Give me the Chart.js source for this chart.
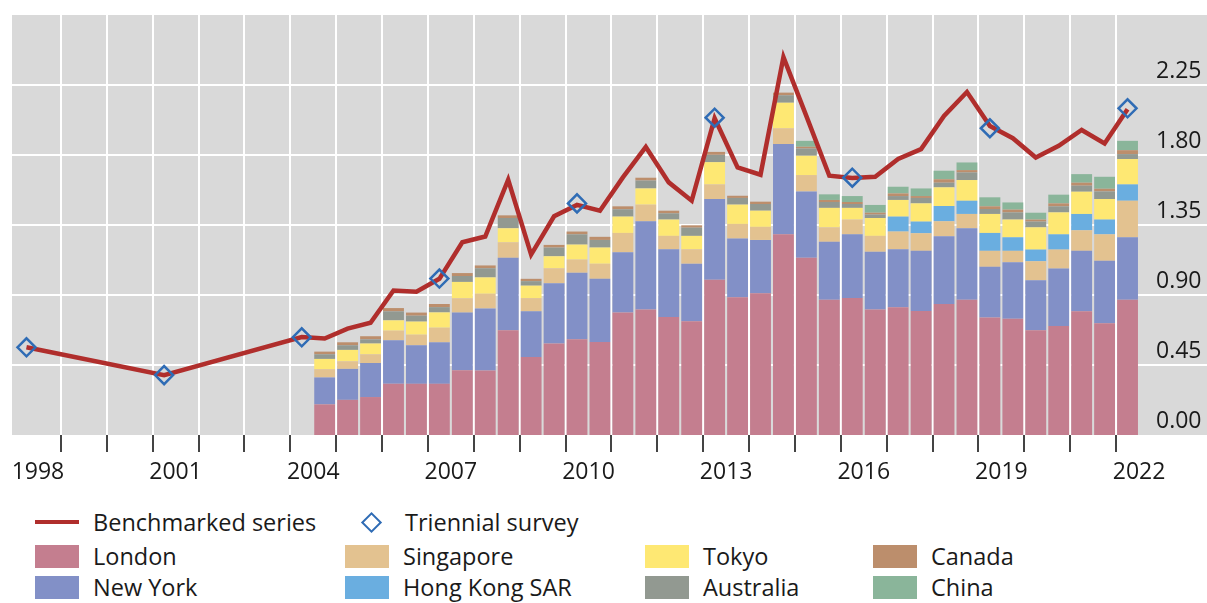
<!DOCTYPE html>
<html lang="en">
<head>
  <meta charset="UTF-8" />
  <title>FX turnover by trading centre</title>
  <script src="https://cdn.jsdelivr.net/npm/chart.js"></script>
  <style>
    body {
      margin: 0;
      background: #fff;
      font-family: "Open Sans", sans-serif;
    }

    .wrap {
      position: relative;
      width: 1207px;
      height: 603px;
      overflow: hidden;
    }

    #turnover-chart {
      position: absolute;
      left: 0;
      top: 0;
    }

    .legend-item {
      position: absolute;
      height: 30px;
      display: flex;
      align-items: center;
      font-size: 23.5px;
      color: #1a1a1a;
      white-space: nowrap;
    }

    .legend-item .swatch {
      width: 44px;
      height: 23px;
      margin-right: 14px;
    }

    .legend-item .dash {
      width: 44px;
      height: 4px;
      margin-right: 14px;
    }

    .legend-item .diamond {
      width: 11px;
      height: 11px;
      border: 2.5px solid #2f6cb5;
      transform: rotate(45deg);
      margin: 0 26px 0 4px;
    }
  </style>
</head>
<body>
  <div class="wrap">
    <canvas id="turnover-chart" width="1207" height="495"></canvas>
    <div id="legend"></div>
  </div>

  <script>
    // half-year periods on the axis
    const periods = [
      '1998 H1', '1998 H2', '1999 H1', '1999 H2', '2000 H1', '2000 H2', '2001 H1', '2001 H2',
      '2002 H1', '2002 H2', '2003 H1', '2003 H2', '2004 H1', '2004 H2', '2005 H1', '2005 H2',
      '2006 H1', '2006 H2', '2007 H1', '2007 H2', '2008 H1', '2008 H2', '2009 H1', '2009 H2',
      '2010 H1', '2010 H2', '2011 H1', '2011 H2', '2012 H1', '2012 H2', '2013 H1', '2013 H2',
      '2014 H1', '2014 H2', '2015 H1', '2015 H2', '2016 H1', '2016 H2', '2017 H1', '2017 H2',
      '2018 H1', '2018 H2', '2019 H1', '2019 H2', '2020 H1', '2020 H2', '2021 H1', '2021 H2',
      '2022 H1'
    ];

    // trading centre bars, 2004 H2 to 2022 H1
    const barStart = '2004 H2';
    const london    = [0.197, 0.226, 0.244, 0.329, 0.329, 0.329, 0.417, 0.415, 0.673, 0.502, 0.588, 0.615, 0.598, 0.787, 0.806, 0.758, 0.731, 0.998, 0.885, 0.912, 1.290, 1.139, 0.870, 0.880, 0.806, 0.822, 0.797, 0.842, 0.870, 0.756, 0.748, 0.673, 0.701, 0.795, 0.718, 0.870];
    const newYork   = [0.173, 0.199, 0.219, 0.280, 0.248, 0.267, 0.370, 0.399, 0.466, 0.293, 0.388, 0.428, 0.406, 0.388, 0.568, 0.436, 0.370, 0.519, 0.378, 0.342, 0.580, 0.427, 0.372, 0.410, 0.372, 0.372, 0.387, 0.436, 0.459, 0.325, 0.363, 0.322, 0.369, 0.389, 0.402, 0.401];
    const singapore = [0.053, 0.049, 0.056, 0.062, 0.068, 0.094, 0.092, 0.094, 0.100, 0.085, 0.096, 0.085, 0.097, 0.124, 0.107, 0.086, 0.093, 0.094, 0.094, 0.084, 0.102, 0.105, 0.093, 0.095, 0.102, 0.114, 0.113, 0.096, 0.092, 0.103, 0.073, 0.122, 0.122, 0.132, 0.170, 0.235];
    const hongKong  = [0, 0, 0, 0, 0, 0, 0, 0, 0, 0, 0, 0, 0, 0, 0, 0, 0, 0, 0, 0, 0, 0, 0, 0, 0, 0.096, 0.075, 0.098, 0.085, 0.115, 0.087, 0.075, 0.098, 0.105, 0.095, 0.105];
    const tokyo     = [0.066, 0.073, 0.069, 0.066, 0.084, 0.098, 0.105, 0.105, 0.090, 0.080, 0.077, 0.096, 0.104, 0.105, 0.104, 0.105, 0.086, 0.143, 0.124, 0.104, 0.164, 0.124, 0.125, 0.075, 0.115, 0.107, 0.117, 0.120, 0.133, 0.122, 0.114, 0.143, 0.141, 0.143, 0.132, 0.163];
    const australia = [0.030, 0.030, 0.027, 0.058, 0.038, 0.034, 0.038, 0.059, 0.066, 0.029, 0.056, 0.066, 0.049, 0.047, 0.051, 0.040, 0.053, 0.047, 0.043, 0.043, 0.048, 0.047, 0.038, 0.025, 0.022, 0.025, 0.035, 0.030, 0.049, 0.032, 0.046, 0.037, 0.039, 0.039, 0.049, 0.032];
    const canada    = [0.017, 0.019, 0.020, 0.021, 0.020, 0.020, 0.019, 0.018, 0.017, 0.015, 0.017, 0.018, 0.020, 0.019, 0.018, 0.017, 0.015, 0.019, 0.014, 0.015, 0.017, 0.011, 0.013, 0.013, 0.012, 0.017, 0.012, 0.022, 0.015, 0.017, 0.018, 0.013, 0.019, 0.019, 0.017, 0.025];
    const china     = [0, 0, 0, 0, 0, 0, 0, 0, 0, 0, 0, 0, 0, 0, 0, 0, 0, 0, 0, 0, 0, 0.038, 0.036, 0.038, 0.050, 0.043, 0.049, 0.055, 0.049, 0.058, 0.046, 0.044, 0.056, 0.055, 0.077, 0.060];

    // benchmarked series: survey years before 2004, then half-yearly from 2004 H1
    const benchmarkEarlyPeriods = ['1998 H1', '2001 H1'];
    const benchmarkEarly = [0.564, 0.385];
    const benchmarkStart = '2004 H1';
    const benchmark = [0.630, 0.620, 0.684, 0.722, 0.929, 0.921, 1.004, 1.239, 1.276, 1.641, 1.160, 1.406, 1.479, 1.442, 1.656, 1.852, 1.624, 1.506, 2.036, 1.720, 1.673, 2.429, 2.050, 1.667, 1.652, 1.660, 1.774, 1.838, 2.051, 2.205, 1.987, 1.908, 1.784, 1.859, 1.961, 1.874, 2.094];

    // triennial survey points (April of each survey year)
    const surveyPeriods = ['1998 H1', '2001 H1', '2004 H1', '2007 H1', '2010 H1', '2013 H1', '2016 H1', '2019 H1', '2022 H1'];
    const survey = [0.564, 0.385, 0.628, 1.006, 1.489, 2.040, 1.654, 1.972, 2.100];

    const yTicks = [0, 0.45, 0.90, 1.35, 1.80, 2.25];

    const centres = [
      { name: 'London', data: london, color: '#c47e8f', col: 0, row: 1 },
      { name: 'New York', data: newYork, color: '#8290c7', col: 0, row: 2 },
      { name: 'Singapore', data: singapore, color: '#e3c290', col: 1, row: 1 },
      { name: 'Hong Kong SAR', data: hongKong, color: '#6aaee0', col: 1, row: 2 },
      { name: 'Tokyo', data: tokyo, color: '#fee873', col: 2, row: 1 },
      { name: 'Australia', data: australia, color: '#929991', col: 2, row: 2 },
      { name: 'Canada', data: canada, color: '#bc8e6c', col: 3, row: 1 },
      { name: 'China', data: china, color: '#8ab59a', col: 3, row: 2 }
    ];

    const fontFamily = '"Open Sans", sans-serif';
    const textColor = '#1a1a1a';

    // spread a short series onto the full period axis
    function onAxis(values, start) {
      const out = periods.map(() => null);
      const i0 = periods.indexOf(start);
      values.forEach((v, i) => { out[i0 + i] = v; });
      return out;
    }

    const benchmarkFull = onAxis(benchmark, benchmarkStart);
    benchmarkEarlyPeriods.forEach((p, i) => { benchmarkFull[periods.indexOf(p)] = benchmarkEarly[i]; });

    const surveyFull = periods.map(() => null);
    surveyPeriods.forEach((p, i) => { surveyFull[periods.indexOf(p)] = survey[i]; });

    const datasets = centres.map(c => ({
      type: 'bar',
      label: c.name,
      data: onAxis(c.data, barStart),
      backgroundColor: c.color,
      borderWidth: 0,
      barPercentage: 0.91,
      categoryPercentage: 1,
      order: 2
    }));

    datasets.push({
      type: 'line',
      label: 'Benchmarked series',
      data: benchmarkFull,
      borderColor: '#b02e2c',
      borderWidth: 4.5,
      pointRadius: 0,
      spanGaps: true,
      tension: 0,
      fill: false,
      stack: 'bench',
      order: 1
    });

    datasets.push({
      type: 'line',
      label: 'Triennial survey',
      data: surveyFull,
      showLine: false,
      pointStyle: 'rectRot',
      pointRadius: 9,
      pointBorderWidth: 2.5,
      pointBorderColor: '#2f6cb5',
      pointBackgroundColor: 'rgba(0,0,0,0)',
      stack: 'survey',
      order: 0
    });

    // grey plot panel and full-width horizontal grid lines
    const panel = {
      id: 'panel',
      beforeDraw(chart) {
        const { ctx, chartArea } = chart;
        ctx.save();
        ctx.fillStyle = '#d9d9d9';
        ctx.fillRect(12, chartArea.top, chart.width - 12, chartArea.bottom - chartArea.top);
        ctx.restore();
      },
      beforeDatasetsDraw(chart) {
        const { ctx } = chart;
        const y = chart.scales.y;
        ctx.save();
        ctx.strokeStyle = '#ffffff';
        ctx.lineWidth = 2;
        yTicks.forEach(v => {
          if (v === 0) return;
          const py = Math.round(y.getPixelForValue(v));
          ctx.beginPath();
          ctx.moveTo(12, py);
          ctx.lineTo(chart.width, py);
          ctx.stroke();
        });
        ctx.restore();
      }
    };

    const yearLine = c => (c.index > 0 && c.index % 2 === 0);

    new Chart(document.getElementById('turnover-chart'), {
      type: 'bar',
      data: { labels: periods, datasets: datasets },
      options: {
        responsive: false,
        animation: false,
        layout: { padding: { left: 15, top: 15, right: 0, bottom: 0 } },
        plugins: {
          legend: { display: false },
          tooltip: { enabled: false }
        },
        scales: {
          x: {
            stacked: true,
            offset: true,
            border: { display: false },
            grid: {
              offset: true,
              color: c => yearLine(c) ? '#ffffff' : 'rgba(0,0,0,0)',
              lineWidth: 2,
              tickColor: c => yearLine(c) ? '#444444' : 'rgba(0,0,0,0)',
              tickLength: 17,
              tickWidth: 2
            },
            ticks: {
              autoSkip: false,
              maxRotation: 0,
              minRotation: 0,
              labelOffset: 11.5,
              padding: 7,
              color: textColor,
              font: { family: fontFamily, size: 23 },
              callback: (v, i) => i % 6 === 0 ? periods[i].slice(0, 4) : ''
            },
            afterFit: s => { s.height = 60; s.paddingLeft = 0; s.paddingRight = 0; }
          },
          y: {
            position: 'right',
            stacked: true,
            min: 0,
            max: 2.7,
            border: { display: false },
            grid: { display: false, drawTicks: false },
            ticks: {
              stepSize: 0.45,
              padding: 17,
              labelOffset: -14,
              color: textColor,
              font: { family: fontFamily, size: 23 },
              callback: v => v > 2.6 ? '' : v.toFixed(2)
            },
            afterFit: s => { s.width = 68; s.paddingTop = 0; s.paddingBottom = 0; }
          }
        }
      },
      plugins: [panel]
    });

    // legend below the chart
    const legend = document.getElementById('legend');
    const colX = [35, 345, 645, 873];
    const rowY = [507, 541, 572];

    function addItem(x, y, marker, text) {
      const item = document.createElement('div');
      item.className = 'legend-item';
      item.style.left = x + 'px';
      item.style.top = y + 'px';
      item.appendChild(marker);
      item.appendChild(document.createTextNode(text));
      legend.appendChild(item);
    }

    const dash = document.createElement('span');
    dash.className = 'dash';
    dash.style.background = '#b02e2c';
    addItem(colX[0], rowY[0], dash, 'Benchmarked series');

    const diamond = document.createElement('span');
    diamond.className = 'diamond';
    addItem(360, rowY[0], diamond, 'Triennial survey');

    centres.forEach(c => {
      const sw = document.createElement('span');
      sw.className = 'swatch';
      sw.style.background = c.color;
      addItem(colX[c.col], rowY[c.row], sw, c.name);
    });
  </script>
</body>
</html>
